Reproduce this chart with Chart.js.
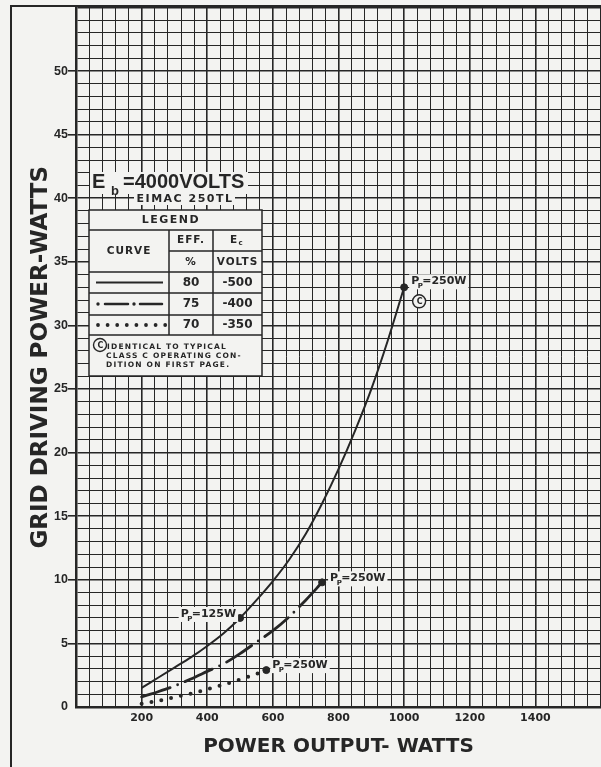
<!DOCTYPE html>
<html>
<head>
<meta charset="utf-8">
<title>EIMAC 250TL - grid driving power</title>
<script src="https://cdn.jsdelivr.net/npm/chart.js@4.4.1/dist/chart.umd.min.js"></script>
<style>
    html, body { margin: 0; padding: 0; background: #f3f3f1; }
    canvas { display: block; }
</style>
</head>
<body>
<canvas id="myChart" width="601" height="767"></canvas>
<script>
// 80% efficiency, Ec = -500 V (solid curve)
const eff80Watts = [200, 250, 300, 350, 400, 450, 500, 550, 600, 650, 700, 750, 800, 850, 900, 950, 1000];
const eff80Drive = [1.5, 2.3, 3.1, 3.9, 4.8, 5.8, 7.0, 8.4, 9.9, 11.6, 13.6, 16.0, 18.7, 21.7, 25.0, 28.8, 33.0];

// 75% efficiency, Ec = -400 V (dash-dot curve)
const eff75Watts = [200, 250, 300, 350, 400, 450, 500, 550, 600, 650, 700, 750];
const eff75Drive = [0.8, 1.2, 1.65, 2.2, 2.8, 3.4, 4.2, 5.1, 6.0, 7.1, 8.4, 9.8];

// 70% efficiency, Ec = -350 V (dotted curve)
const eff70Watts = [200, 250, 300, 350, 400, 450, 500, 550, 580];
const eff70Drive = [0.25, 0.48, 0.77, 1.05, 1.39, 1.76, 2.16, 2.6, 2.9];

// plate dissipation points
const markerWatts = [500, 1000, 750, 580];
const markerDrive = [7.0, 33.0, 9.8, 2.9];
const markerText = ["125W", "250W", "250W", "250W"];

const xTickLabels = [200, 400, 600, 800, 1000, 1200, 1400];
const yTickLabels = [0, 5, 10, 15, 20, 25, 30, 35, 40, 45, 50];

const legendEff = ["80", "75", "70"];
const legendVolts = ["-500", "-400", "-350"];
const noteLines = ["IDENTICAL TO TYPICAL", "CLASS C OPERATING CON-", "DITION ON FIRST PAGE."];

const INK = "#262626";
const PAPER = "#f3f3f1";
const SANS = "'DejaVu Sans', sans-serif";

function toPoints(xs, ys) {
    return xs.map((x, i) => ({ x: x, y: ys[i] }));
}

function circledC(ctx, cx, cy, r) {
    ctx.beginPath();
    ctx.arc(cx, cy, r, 0, Math.PI * 2);
    ctx.fillStyle = PAPER;
    ctx.fill();
    ctx.lineWidth = 1.4;
    ctx.strokeStyle = INK;
    ctx.stroke();
    ctx.fillStyle = INK;
    ctx.font = "bold " + Math.round(r * 1.3) + "px " + SANS;
    ctx.textAlign = "center";
    ctx.textBaseline = "middle";
    ctx.fillText("C", cx + 0.5, cy + 0.5);
}

// "P" with subscript "P", then "=125W"
function pLabel(ctx, x, y, text, alignRight) {
    ctx.font = "bold 11px " + SANS;
    const wP = ctx.measureText("P").width;
    const wRest = ctx.measureText("=" + text).width;
    const total = wP + 3 + wRest;
    const left = alignRight ? x - total : x;
    ctx.fillStyle = PAPER;
    ctx.fillRect(left - 2, y - 7, total + 4, 15);
    ctx.fillStyle = INK;
    ctx.textAlign = "left";
    ctx.textBaseline = "middle";
    ctx.fillText("P", left, y);
    ctx.fillText("=" + text, left + wP + 3, y);
    ctx.font = "bold 7px " + SANS;
    ctx.fillText("P", left + wP - 1.5, y + 5);
}

const paperPlugin = {
    id: "paper",
    beforeDraw(chart) {
        const ctx = chart.ctx;
        ctx.save();
        ctx.fillStyle = PAPER;
        ctx.fillRect(0, 0, chart.width, chart.height);
        // outer frame of the sheet
        ctx.strokeStyle = INK;
        ctx.lineWidth = 2;
        ctx.strokeRect(11, 6, 800, 900);
        ctx.restore();
    },
};

const notesPlugin = {
    id: "notes",
    afterDraw(chart) {
        const ctx = chart.ctx;
        const xs = chart.scales.x;
        const ys = chart.scales.y;
        ctx.save();

        // Pp labels next to the markers
        const offsets = [[-4, -4, true], [7, -6, false], [8, -4, false], [6, -5, false]];
        markerWatts.forEach((w, i) => {
            const px = xs.getPixelForValue(w);
            const py = ys.getPixelForValue(markerDrive[i]);
            const o = offsets[i];
            pLabel(ctx, px + o[0], py + o[1], markerText[i], o[2]);
        });
        // (C) under the 1000 W point
        circledC(ctx, xs.getPixelForValue(1000) + 15, ys.getPixelForValue(33) + 14, 6.5);

        // heading
        ctx.fillStyle = PAPER;
        ctx.fillRect(90, 172, 158, 22);
        ctx.fillRect(134, 194, 101, 11);
        ctx.fillStyle = INK;
        ctx.textAlign = "left";
        ctx.textBaseline = "alphabetic";
        ctx.font = "bold 20px 'Liberation Sans', sans-serif";
        ctx.fillText("E", 92, 188);
        ctx.fillText("=4000VOLTS", 123, 188);
        ctx.font = "bold 13px 'Liberation Sans', sans-serif";
        ctx.fillText("b", 111, 195);
        ctx.font = "bold 11px " + SANS;
        ctx.letterSpacing = "1.5px";
        ctx.textAlign = "center";
        ctx.textBaseline = "middle";
        ctx.fillText("EIMAC 250TL", 185, 199.5);

        // legend table
        const c0 = 89, c1 = 169, c2 = 213, c3 = 262;
        const r = [210, 230, 251, 272, 293, 315, 335, 376];
        ctx.fillStyle = PAPER;
        ctx.fillRect(c0, r[0], c3 - c0, r[7] - r[0]);
        ctx.strokeStyle = INK;
        ctx.lineWidth = 1.5;
        ctx.strokeRect(c0, r[0], c3 - c0, r[7] - r[0]);
        ctx.beginPath();
        [r[1], r[3], r[4], r[5], r[6]].forEach((y) => {
            ctx.moveTo(c0, y);
            ctx.lineTo(c3, y);
        });
        ctx.moveTo(c1, r[2]);
        ctx.lineTo(c3, r[2]);
        ctx.moveTo(c1, r[1]);
        ctx.lineTo(c1, r[6]);
        ctx.moveTo(c2, r[1]);
        ctx.lineTo(c2, r[6]);
        ctx.stroke();

        ctx.fillStyle = INK;
        ctx.textAlign = "center";
        ctx.textBaseline = "middle";
        ctx.font = "bold 11px " + SANS;
        ctx.letterSpacing = "1.5px";
        ctx.fillText("LEGEND", 171, 220.5);
        ctx.letterSpacing = "1px";
        ctx.font = "bold 10.5px " + SANS;
        ctx.fillText("CURVE", 129, 251.5);
        ctx.fillText("EFF.", 191, 240.5);
        ctx.fillText("%", 191, 262);
        ctx.fillText("VOLTS", 237.5, 262);
        ctx.fillText("E", 234, 240.5);
        ctx.font = "bold 7px " + SANS;
        ctx.fillText("c", 241, 243.5);
        ctx.letterSpacing = "0px";
        ctx.font = "bold 12px " + SANS;
        const rowMid = [282.5, 304, 325];
        legendEff.forEach((e, i) => {
            ctx.fillText(e, 191, rowMid[i]);
            ctx.fillText(legendVolts[i], 237.5, rowMid[i]);
        });

        // curve samples
        ctx.lineWidth = 2;
        ctx.beginPath();
        ctx.moveTo(96, rowMid[0]);
        ctx.lineTo(163, rowMid[0]);
        ctx.stroke();
        ctx.lineCap = "round";
        ctx.lineWidth = 2.5;
        ctx.beginPath();
        ctx.moveTo(105, rowMid[1]);
        ctx.lineTo(128, rowMid[1]);
        ctx.moveTo(140, rowMid[1]);
        ctx.lineTo(162, rowMid[1]);
        ctx.stroke();
        [98, 134].forEach((x) => {
            ctx.beginPath();
            ctx.arc(x, rowMid[1], 1.7, 0, Math.PI * 2);
            ctx.fill();
        });
        for (let k = 0; k < 8; k++) {
            ctx.beginPath();
            ctx.arc(98 + k * 9.6, rowMid[2], 1.9, 0, Math.PI * 2);
            ctx.fill();
        }

        // footnote
        circledC(ctx, 100, 345, 6.5);
        ctx.fillStyle = INK;
        ctx.textAlign = "left";
        ctx.textBaseline = "middle";
        ctx.font = "bold 7.5px " + SANS;
        ctx.letterSpacing = "1.2px";
        ctx.fillText(noteLines[0], 107, 347);
        ctx.fillText(noteLines[1], 106, 356.5);
        ctx.fillText(noteLines[2], 106, 365);
        ctx.letterSpacing = "0px";
        ctx.restore();
    },
};

const data = {
    datasets: [
        {
            label: "80% / -500 V",
            data: toPoints(eff80Watts, eff80Drive),
            borderColor: INK,
            borderWidth: 2,
            pointRadius: 0,
            cubicInterpolationMode: "monotone",
        },
        {
            label: "75% / -400 V",
            data: toPoints(eff75Watts, eff75Drive),
            borderColor: INK,
            borderWidth: 2.8,
            borderDash: [30, 8, 0, 8],
            borderCapStyle: "round",
            pointRadius: 0,
            cubicInterpolationMode: "monotone",
        },
        {
            label: "70% / -350 V",
            data: toPoints(eff70Watts, eff70Drive),
            borderColor: INK,
            borderWidth: 4,
            borderDash: [0, 10],
            borderCapStyle: "round",
            pointRadius: 0,
            cubicInterpolationMode: "monotone",
        },
        {
            type: "scatter",
            label: "Pp",
            data: toPoints(markerWatts, markerDrive),
            backgroundColor: INK,
            borderColor: INK,
            pointRadius: 3.5,
            showLine: false,
        },
    ],
};

const config = {
    type: "line",
    data: data,
    options: {
        responsive: false,
        animation: false,
        layout: {
            autoPadding: false, // markers would otherwise pull the grid in from the right edge
            padding: { top: 7, left: 0, right: 0, bottom: 0 },
        },
        plugins: {
            legend: { display: false },
            tooltip: { enabled: false },
        },
        scales: {
            x: {
                type: "linear",
                min: 0,
                max: 1600,
                afterFit(scale) {
                    scale.height = 60;
                },
                ticks: {
                    stepSize: 40,
                    autoSkip: false,
                    maxRotation: 0,
                    minRotation: 0,
                    padding: 0,
                    color: INK,
                    font: { family: SANS, weight: "bold", size: 11, lineHeight: 2.0 },
                    callback: (v) => (xTickLabels.includes(v) ? String(v) : ""),
                },
                grid: {
                    color: INK,
                    lineWidth: (c) => (c.tick && c.tick.value % 200 === 0 ? 1.6 : 1),
                    drawTicks: false,
                },
                border: { color: INK, width: 2.5 },
                title: {
                    display: true,
                    text: "POWER OUTPUT- WATTS",
                    color: INK,
                    font: { family: SANS, weight: "bold", size: 20 },
                    padding: { top: 0, bottom: 8 },
                },
            },
            y: {
                type: "linear",
                min: 0,
                max: 55,
                afterFit(scale) {
                    scale.width = 76;
                },
                ticks: {
                    stepSize: 1,
                    autoSkip: false,
                    padding: 0,
                    color: INK,
                    font: { family: "'Liberation Sans', sans-serif", weight: "bold", size: 12.5 },
                    callback: (v) => (yTickLabels.includes(v) ? String(v) : ""),
                },
                grid: {
                    color: INK,
                    lineWidth: (c) => (c.tick && c.tick.value % 5 === 0 ? 1.6 : 1),
                    tickLength: 8,
                    tickColor: (c) =>
                        c.tick && c.tick.value > 0 && yTickLabels.includes(c.tick.value)
                            ? INK
                            : "rgba(0,0,0,0)",
                },
                border: { color: INK, width: 2.5 },
                title: {
                    display: true,
                    text: "GRID DRIVING POWER-WATTS",
                    color: INK,
                    font: { family: SANS, weight: "bold", size: 23 },
                    padding: { top: 27, bottom: 0 },
                },
            },
        },
    },
    plugins: [paperPlugin, notesPlugin],
};

document.addEventListener("DOMContentLoaded", function () {
    const ctx = document.getElementById("myChart").getContext("2d");
    const myChart = new Chart(ctx, config);
});
</script>
</body>
</html>
